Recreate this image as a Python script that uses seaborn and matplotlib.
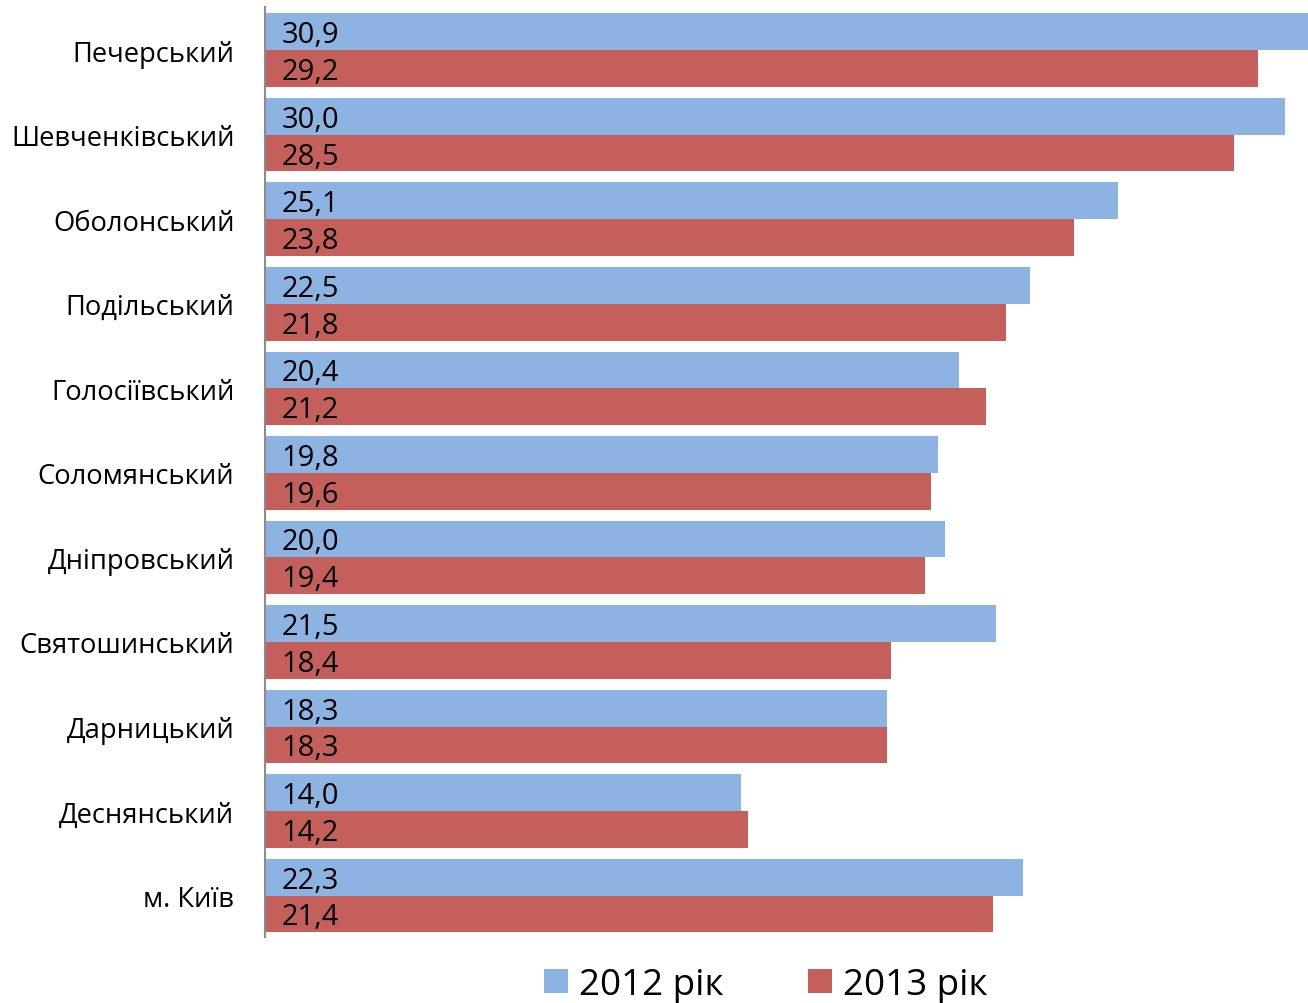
import matplotlib
matplotlib.use("Agg")
import matplotlib.pyplot as plt
import seaborn as sns
import pandas as pd

districts = ["Печерський", "Шевченківський", "Оболонський", "Подільський",
             "Голосіївський", "Соломянський", "Дніпровський", "Святошинський",
             "Дарницький", "Деснянський", "м. Київ"]
values_2012 = [30.9, 30.0, 25.1, 22.5, 20.4, 19.8, 20.0, 21.5, 18.3, 14.0, 22.3]
values_2013 = [29.2, 28.5, 23.8, 21.8, 21.2, 19.6, 19.4, 18.4, 18.3, 14.2, 21.4]
series = ["2012 рік", "2013 рік"]
colors = ["#8DB3E2", "#C55F5C"]

df = pd.DataFrame({
    "district": districts * 2,
    "value": values_2012 + values_2013,
    "year": [series[0]] * len(districts) + [series[1]] * len(districts),
})

sns.set_theme(style="white")
plt.rcParams["font.family"] = ["Open Sans", "DejaVu Sans"]
plt.rcParams["text.color"] = "black"

fig = plt.figure(figsize=(13.08, 10.04), dpi=100)
ax = fig.add_axes([0.2026, 0.0657, 0.7974, 0.9263])

sns.barplot(data=df, y="district", x="value", hue="year", orient="h",
            palette=colors, saturation=1, width=0.87, ax=ax, legend=True,
            edgecolor="none", linewidth=0)

ax.set_xlim(0, 30.68)
ax.set_ylim(len(districts) - 0.51, -0.51)

for cont, vals in zip(ax.containers, [values_2012, values_2013]):
    for patch, v in zip(cont.patches, vals):
        ax.text(patch.get_x() + 0.48, patch.get_y() + patch.get_height() / 2 + 0.035,
                f"{v:.1f}".replace(".", ","), ha="left", va="center",
                fontsize=21, color="black")

ax.set_xlabel("")
ax.set_ylabel("")
ax.set_xticks([])
ax.tick_params(axis="y", length=0, pad=22, labelsize=19.7, labelcolor="black")
for s in ["top", "right", "bottom"]:
    ax.spines[s].set_visible(False)
ax.spines["left"].set_color("#8C8C8C")
ax.spines["left"].set_linewidth(1.5)

handles, labels = ax.get_legend_handles_labels()
leg = ax.legend(handles, labels, loc="center", bbox_to_anchor=(766 / 1308, 1 - 986 / 1004),
                bbox_transform=fig.transFigure, ncol=2, frameon=False, fontsize=26.5,
                handlelength=0.65, handleheight=0.65, handletextpad=0.3, columnspacing=2.3,
                borderaxespad=0, borderpad=0, labelcolor="black")

fig.savefig("out.png", dpi=100)
